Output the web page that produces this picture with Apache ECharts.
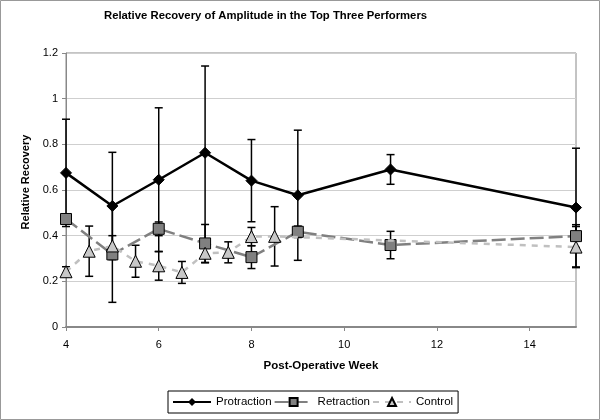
<!DOCTYPE html>
<html>
<head>
<meta charset="utf-8">
<script src="https://cdn.jsdelivr.net/npm/echarts@6/dist/echarts.min.js"></script>
<style>html,body{margin:0;padding:0;background:#fff}#c{width:600px;height:420px}</style>
</head>
<body>
<div id="c"></div>
<script>
// ---- data ----
const protWeeks = [4, 5, 6, 7, 8, 9, 11, 15];
const protMean  = [0.675, 0.53, 0.645, 0.763, 0.641, 0.577, 0.69, 0.523];
const protErr   = [0.235, 0.235, 0.315, 0.38, 0.18, 0.285, 0.065, 0.26];

const retrWeeks = [4, 5, 6, 7, 8, 9, 11, 15];
const retrMean  = [0.473, 0.318, 0.43, 0.366, 0.306, 0.417, 0.359, 0.398];
const retrErr   = [0.02, 0.21, 0.03, 0.083, 0.05, 0.025, 0.06, 0.05];

const ctrlWeeks = [4, 4.5, 5, 5.5, 6, 6.5, 7, 7.5, 8, 8.5, 15];
const ctrlMean  = [0.242, 0.332, 0.355, 0.288, 0.268, 0.239, 0.323, 0.327, 0.396, 0.397, 0.35];
const ctrlErr   = [0.022, 0.11, 0.045, 0.07, 0.063, 0.048, 0.042, 0.046, 0.04, 0.13, 0.09];

const seriesNames = ['Protraction', 'Retraction', 'Control'];
const xTicks = { min: 4, max: 15, interval: 2 };
const yTicks = { min: 0, max: 1.2, interval: 0.2 };

// ---- build ----
const pts = (w, m) => w.map((x, i) => [x, m[i]]);
const bars = (w, m, e) => w.map((x, i) => [x, m[i] - e[i], m[i] + e[i]]);

function errRender(params, api) {
  const x = api.value(0), lo = api.value(1), hi = api.value(2);
  const a = api.coord([x, lo]), b = api.coord([x, hi]);
  const w = 4;
  const st = { stroke: '#000', lineWidth: 1.5 };
  return {
    type: 'group',
    children: [
      { type: 'line', shape: { x1: a[0], y1: a[1], x2: b[0], y2: b[1] }, style: st },
      { type: 'line', shape: { x1: a[0] - w, y1: a[1], x2: a[0] + w, y2: a[1] }, style: st },
      { type: 'line', shape: { x1: b[0] - w, y1: b[1], x2: b[0] + w, y2: b[1] }, style: st }
    ]
  };
}

const font = 'Liberation Sans, Arial, sans-serif';
const chart = echarts.init(document.getElementById('c'), null, { renderer: 'canvas' });
chart.setOption({
  animation: false,
  backgroundColor: '#fff',
  textStyle: { fontFamily: font },
  title: {
    text: 'Relative Recovery of Amplitude in the Top Three Performers',
    left: 99, top: 5,
    textStyle: { fontFamily: font, fontSize: 11.3, fontWeight: 'bold', color: '#000' }
  },
  graphic: [{
    type: 'rect', shape: { x: 0.5, y: 0.5, width: 599, height: 419 },
    style: { fill: 'none', stroke: '#999', lineWidth: 1 }, silent: true
  }],
  grid: { left: 66, right: 24, top: 53, bottom: 93, show: true, borderColor: '#888', borderWidth: 1 },
  legend: {
    data: seriesNames,
    bottom: 7, left: 168,
    itemWidth: 38, itemHeight: 10, itemGap: 2,
    borderColor: '#000', borderWidth: 1, padding: [5, 5, 5, 4],
    textStyle: { fontFamily: font, fontSize: 11.5, color: '#000' }
  },
  xAxis: {
    type: 'value', min: xTicks.min, max: xTicks.max, interval: xTicks.interval,
    name: 'Post-Operative Week', nameLocation: 'middle', nameGap: 33,
    nameTextStyle: { fontFamily: font, fontSize: 11.5, fontWeight: 'bold', color: '#000' },
    axisLine: { onZero: false, lineStyle: { color: '#888', width: 2 } },
    axisTick: { show: true, length: 4, lineStyle: { color: '#888' } },
    axisLabel: { fontFamily: font, fontSize: 11, color: '#000', margin: 12, showMaxLabel: false },
    splitLine: { show: false }
  },
  yAxis: {
    type: 'value', min: yTicks.min, max: yTicks.max, interval: yTicks.interval,
    name: 'Relative Recovery', nameLocation: 'middle', nameGap: 29,
    nameTextStyle: { fontFamily: font, fontSize: 11, fontWeight: 'bold', color: '#000', padding: [0, 0, 0, 16] },
    axisLine: { show: true, lineStyle: { color: '#888', width: 1 } },
    axisTick: { show: true, length: 4, inside: false, lineStyle: { color: '#888' } },
    axisLabel: { fontFamily: font, fontSize: 11, color: '#000', margin: 8 },
    splitLine: { show: true, lineStyle: { color: '#cfcfcf', width: 1 } }
  },
  series: [
    { type: 'custom', renderItem: errRender, data: bars(protWeeks, protMean, protErr), z: 1, silent: true },
    { type: 'custom', renderItem: errRender, data: bars(retrWeeks, retrMean, retrErr), z: 1, silent: true },
    { type: 'custom', renderItem: errRender, data: bars(ctrlWeeks, ctrlMean, ctrlErr), z: 1, silent: true },
    {
      name: 'Protraction', type: 'line', data: pts(protWeeks, protMean), z: 3,
      symbol: 'diamond', symbolSize: 11,
      lineStyle: { color: '#000', width: 2.5 },
      itemStyle: { color: '#000', borderColor: '#000' }
    },
    {
      name: 'Retraction', type: 'line', data: pts(retrWeeks, retrMean), z: 4,
      symbol: 'rect', symbolSize: 11,
      lineStyle: { color: '#808080', width: 2.5, type: [14, 5] },
      itemStyle: { color: '#808080', borderColor: '#000', borderWidth: 1 }
    },
    {
      name: 'Control', type: 'line', data: pts(ctrlWeeks, ctrlMean), z: 5,
      symbol: 'triangle', symbolSize: 12,
      lineStyle: { color: '#c0c0c0', width: 2.5, type: [6, 6] },
      itemStyle: { color: '#c8c8c8', borderColor: '#000', borderWidth: 1 }
    }
  ]
});
</script>
</body>
</html>
